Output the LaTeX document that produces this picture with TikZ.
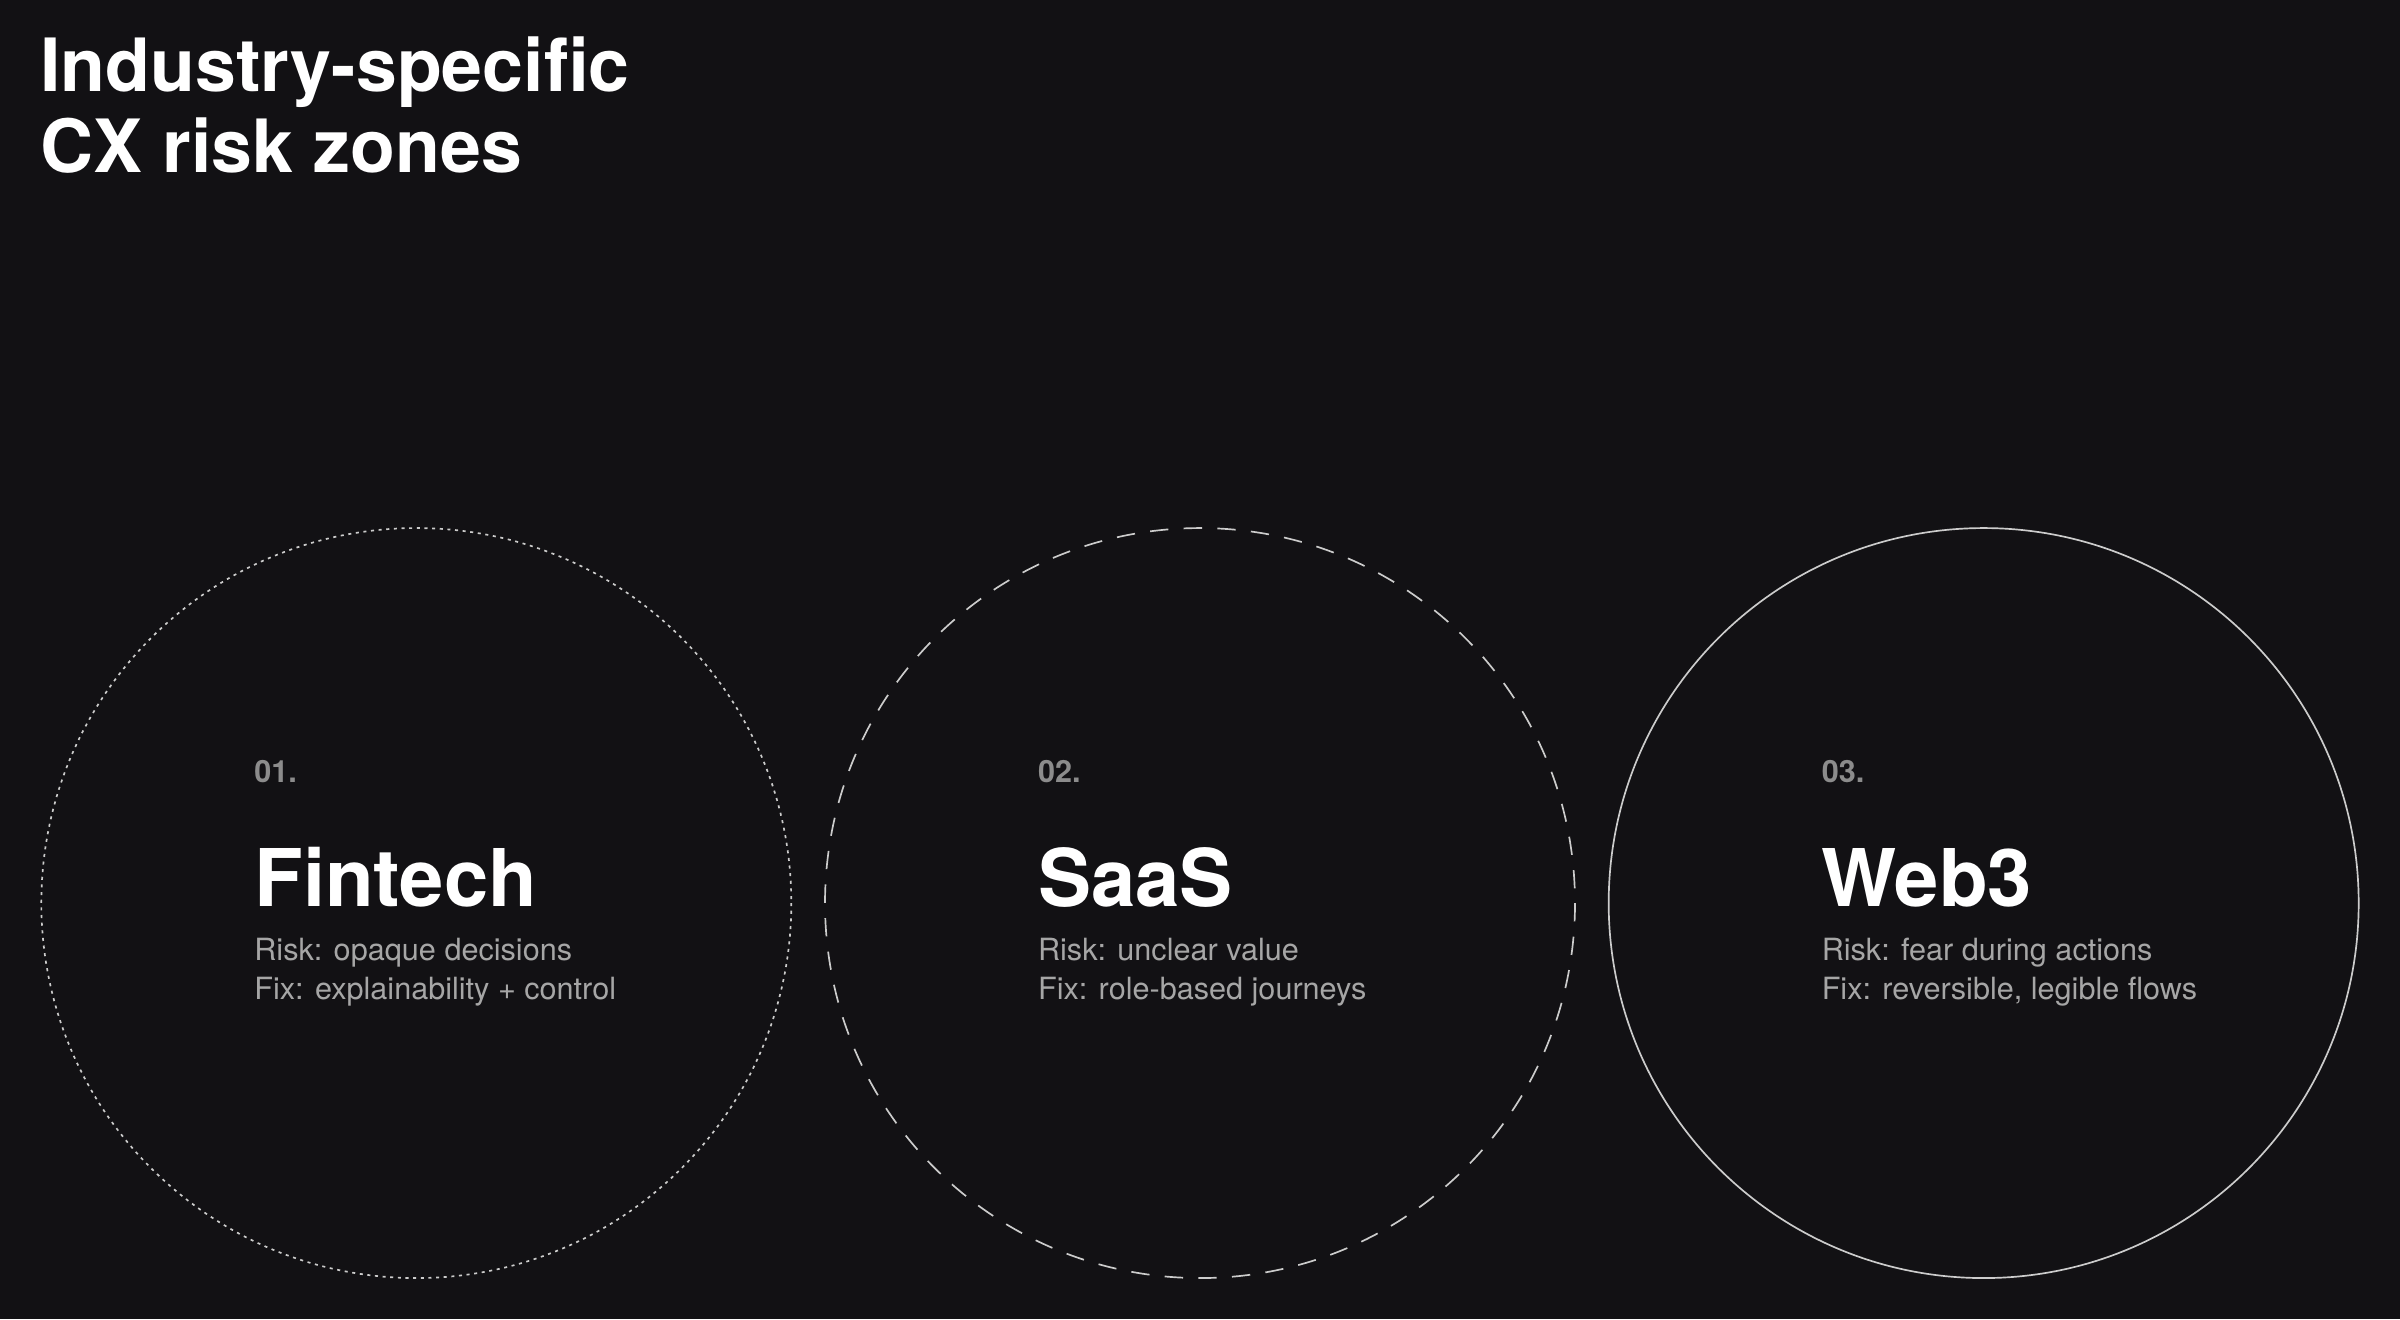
\documentclass[tikz,border=0pt]{standalone}
\usepackage{fontspec}
\setmainfont{TeX Gyre Heros}
\begin{document}
\begin{tikzpicture}[x=1pt,y=-1pt,
  ring/.style={draw=white!80!black, line width=1.1pt},
  num/.style={anchor=base west, inner sep=0, text=white!55!black, font=\fontsize{20}{24}\selectfont\bfseries},
  ttl/.style={anchor=base west, inner sep=0, text=white, font=\fontsize{52}{60}\selectfont\bfseries},
  desc/.style={anchor=north west, inner sep=0, text=white!65!black, align=left, font=\fontsize{20}{25}\selectfont}]
\fill[fill={rgb,255:red,18;green,17;blue,20}] (0,0) rectangle (1568,862);
\useasboundingbox (0,0) rectangle (1568,862);
\node[anchor=north west, inner sep=0, text=white, align=left, font=\fontsize{48}{53}\selectfont\bfseries] (title) at (26,24) {Industry-specific\\CX risk zones};
\draw[ring, dash pattern=on 2pt off 3pt] (272,590) circle[radius=245];
\draw[ring, dash pattern=on 12pt off 10pt] (784,590) circle[radius=245];
\draw[ring] (1296,590) circle[radius=245];
\node[num] (n1) at (166,511) {01.};
\node[ttl] (t1) at (166,592) {Fintech};
\node[desc] (d1) at (166,613) {Risk: opaque decisions\\Fix: explainability + control};
\node[num] (n2) at (678,511) {02.};
\node[ttl] (t2) at (678,592) {SaaS};
\node[desc] (d2) at (678,613) {Risk: unclear value\\Fix: role-based journeys};
\node[num] (n3) at (1190,511) {03.};
\node[ttl] (t3) at (1190,592) {Web3};
\node[desc] (d3) at (1190,613) {Risk: fear during actions\\Fix: reversible, legible flows};
\end{tikzpicture}
\end{document}
